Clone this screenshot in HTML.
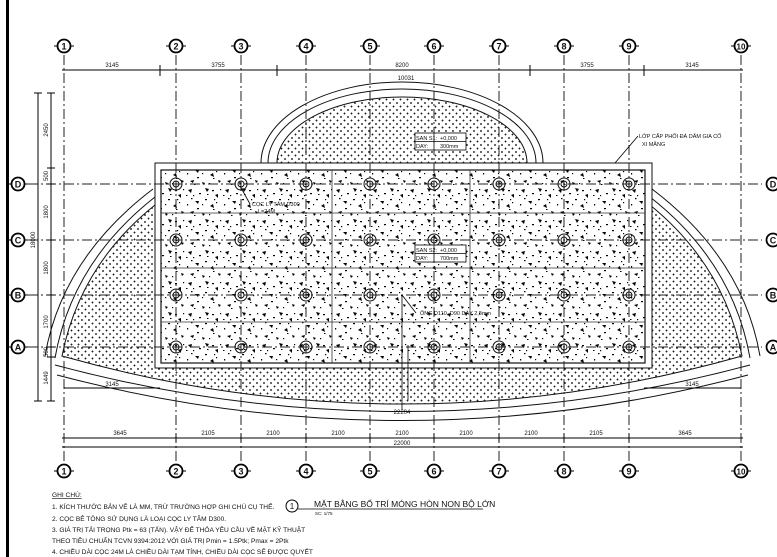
<!DOCTYPE html>
<html><head><meta charset="utf-8"><style>
html,body{margin:0;padding:0;background:#fff;}
svg{display:block;}
text{font-family:"Liberation Sans",sans-serif;fill:#111;}
</style></head><body>
<svg width="777" height="557" viewBox="0 0 777 557" xmlns="http://www.w3.org/2000/svg">
<defs>
<pattern id="dots" width="7" height="7" patternUnits="userSpaceOnUse">
<rect width="7" height="7" fill="#fff"/>
<path d="M0.5 1.5h2M1.5 0.5v2M4 5h2M5 4v2" stroke="#111" stroke-width="0.8"/>
</pattern>
<pattern id="speck" width="37" height="31" patternUnits="userSpaceOnUse">
<rect width="37" height="31" fill="#fff"/>
<g fill="#000">
<path d="M3 4l4-1-1 4z"/><path d="M20 2l4 1-2 3z"/><path d="M30 9l3-1 0 4z"/>
<path d="M10 15l4 0-1 3z"/><path d="M25 20l3-2 1 4z"/><path d="M5 26l4-1-1 3z"/>
<path d="M17 27l3 1-2 2z"/><path d="M33 25l3 1-2 2z"/>
<rect x="14" y="7" width="2" height="1.2"/><rect x="8" y="9" width="1.2" height="1.2"/>
<rect x="27" y="4" width="2" height="1.2"/><rect x="2" y="18" width="1.2" height="1.5"/>
<rect x="20" y="13" width="2" height="1.2"/><rect x="31" y="16" width="1.2" height="1.2"/>
<rect x="12" y="22" width="2" height="1.2"/><rect x="24" y="28" width="1.2" height="1.2"/>
<rect x="35" y="3" width="1.2" height="1.2"/><rect x="17" y="18" width="1.2" height="1.2"/>
<rect x="6" y="12" width="1.5" height="1.2"/><rect x="29" y="13" width="1.2" height="1.2"/>
<rect x="22" y="8" width="1.5" height="1"/><rect x="1" y="9" width="1.5" height="1"/>
<rect x="28" y="23" width="1.5" height="1"/><rect x="9" y="29" width="1.5" height="1"/>
</g>
</pattern>
<g id="prow" fill="none" stroke="#111" stroke-width="1">
<circle cx="176" cy="0" r="6"/><circle cx="176" cy="0" r="3"/>
<circle cx="241" cy="0" r="6"/><circle cx="241" cy="0" r="3"/>
<circle cx="306" cy="0" r="6"/><circle cx="306" cy="0" r="3"/>
<circle cx="370" cy="0" r="6"/><circle cx="370" cy="0" r="3"/>
<circle cx="434" cy="0" r="6"/><circle cx="434" cy="0" r="3"/>
<circle cx="499" cy="0" r="6"/><circle cx="499" cy="0" r="3"/>
<circle cx="564" cy="0" r="6"/><circle cx="564" cy="0" r="3"/>
<circle cx="629" cy="0" r="6"/><circle cx="629" cy="0" r="3"/>
</g>
<g id="bt" fill="#fff" stroke="#000" stroke-width="1.8">
<circle cx="64" cy="0" r="6.5"/><circle cx="176" cy="0" r="6.5"/><circle cx="241" cy="0" r="6.5"/>
<circle cx="306" cy="0" r="6.5"/><circle cx="370" cy="0" r="6.5"/><circle cx="434" cy="0" r="6.5"/>
<circle cx="499" cy="0" r="6.5"/><circle cx="564" cy="0" r="6.5"/><circle cx="629" cy="0" r="6.5"/>
<circle cx="741" cy="0" r="6.5"/>
</g>
</defs>

<rect x="6" y="0" width="3" height="557" fill="#000"/>

<path d="M155 205 Q80 265 62 356 Q402 452 742 356 Q724 265 650 205 Z" fill="url(#dots)" stroke="#111" stroke-width="1"/>
<path d="M277 163 A125 66 0 0 1 527 163 Z" fill="url(#dots)" stroke="#111" stroke-width="1"/>
<path d="M268 163 A134 74 0 0 1 536 163" fill="none" stroke="#111" stroke-width="1"/>
<path d="M261 163 A141 81 0 0 1 543 163" fill="none" stroke="#111" stroke-width="1"/>
<path d="M155 197 Q72 262 55 358" fill="none" stroke="#111"/>
<path d="M153 189 Q62 258 45 356" fill="none" stroke="#111"/>
<path d="M650 197 Q733 262 750 358" fill="none" stroke="#111"/>
<path d="M652 189 Q743 258 760 356" fill="none" stroke="#111"/>
<path d="M55 365 Q402 458 750 365" fill="none" stroke="#111"/>
<path d="M57 375 Q402 466 748 375" fill="none" stroke="#111"/>

<rect x="155" y="163" width="497" height="205" fill="#fff" stroke="#111" stroke-width="1"/>
<rect x="161" y="170" width="484" height="193" fill="url(#speck)" stroke="#111" stroke-width="1.2"/>
<g stroke="#333" stroke-width="0.8">
<line x1="161" y1="213" x2="645" y2="213"/><line x1="161" y1="268" x2="645" y2="268"/><line x1="161" y1="322" x2="645" y2="322"/>
<line x1="332" y1="170" x2="332" y2="363"/><line x1="470" y1="170" x2="470" y2="363"/>
</g>

<g stroke="#222" stroke-width="1" stroke-dasharray="10 3 2 3">
<line x1="64" y1="55" x2="64" y2="462"/><line x1="176" y1="55" x2="176" y2="462"/>
<line x1="241" y1="55" x2="241" y2="462"/><line x1="306" y1="55" x2="306" y2="462"/>
<line x1="370" y1="55" x2="370" y2="462"/><line x1="434" y1="55" x2="434" y2="462"/>
<line x1="499" y1="55" x2="499" y2="462"/><line x1="564" y1="55" x2="564" y2="462"/>
<line x1="629" y1="55" x2="629" y2="462"/><line x1="741" y1="55" x2="741" y2="462"/>
<line x1="28" y1="184" x2="762" y2="184"/><line x1="28" y1="240" x2="762" y2="240"/>
<line x1="28" y1="295" x2="762" y2="295"/><line x1="28" y1="347" x2="762" y2="347"/>
</g>

<use href="#prow" transform="translate(0,184)"/>
<use href="#prow" transform="translate(0,240)"/>
<use href="#prow" transform="translate(0,295)"/>
<use href="#prow" transform="translate(0,347)"/>

<use href="#bt" transform="translate(0,46)"/>
<use href="#bt" transform="translate(0,471)"/>
<g fill="#fff" stroke="#000" stroke-width="1.8">
<circle cx="18" cy="184" r="6.5"/><circle cx="18" cy="240" r="6.5"/><circle cx="18" cy="295" r="6.5"/><circle cx="18" cy="347" r="6.5"/>
<circle cx="773" cy="184" r="6.5"/><circle cx="773" cy="240" r="6.5"/><circle cx="773" cy="295" r="6.5"/><circle cx="773" cy="347" r="6.5"/>
</g>
<g stroke="#000" stroke-width="1">
<path d="M54 46h3M71 46h3M166 46h3M183 46h3M231 46h3M248 46h3M296 46h3M313 46h3M360 46h3M377 46h3M424 46h3M441 46h3M489 46h3M506 46h3M554 46h3M571 46h3M619 46h3M636 46h3M731 46h3M748 46h3"/>
<path d="M54 471h3M71 471h3M166 471h3M183 471h3M231 471h3M248 471h3M296 471h3M313 471h3M360 471h3M377 471h3M424 471h3M441 471h3M489 471h3M506 471h3M554 471h3M571 471h3M619 471h3M636 471h3M731 471h3M748 471h3"/>
<path d="M8 184h3M25 184h3M8 240h3M25 240h3M8 295h3M25 295h3M8 347h3M25 347h3"/>
</g>
<g font-size="9" font-weight="bold" text-anchor="middle">
<text x="64" y="49.5">1</text><text x="176" y="49.5">2</text><text x="241" y="49.5">3</text><text x="306" y="49.5">4</text><text x="370" y="49.5">5</text><text x="434" y="49.5">6</text><text x="499" y="49.5">7</text><text x="564" y="49.5">8</text><text x="629" y="49.5">9</text><text x="741" y="49.5" font-size="8">10</text>
<text x="64" y="474.5">1</text><text x="176" y="474.5">2</text><text x="241" y="474.5">3</text><text x="306" y="474.5">4</text><text x="370" y="474.5">5</text><text x="434" y="474.5">6</text><text x="499" y="474.5">7</text><text x="564" y="474.5">8</text><text x="629" y="474.5">9</text><text x="741" y="474.5" font-size="8">10</text>
<text x="18" y="187.5">D</text><text x="18" y="243.5">C</text><text x="18" y="298.5">B</text><text x="18" y="350.5">A</text>
<text x="773" y="187.5">D</text><text x="773" y="243.5">C</text><text x="773" y="298.5">B</text><text x="773" y="350.5">A</text>
</g>

<g stroke="#000" stroke-width="1">
<line x1="62" y1="70" x2="743" y2="70"/>
<line x1="62" y1="438" x2="743" y2="438"/>
<line x1="62" y1="447" x2="743" y2="447"/>
<path d="M160 65v11M277 65v11M530 65v11M644 65v11"/>
<path d="M176 434v8M241 434v8M306 434v8M370 434v8M434 434v8M499 434v8M564 434v8M629 434v8"/>
<line x1="38" y1="93" x2="38" y2="401"/>
<line x1="51" y1="93" x2="51" y2="401"/>
<path d="M34 93h8M47 93h8M47 168h8M47 184h8M47 240h8M47 295h8M47 347h8M47 357h8M34 401h8M47 401h8"/>
<line x1="64" y1="388" x2="160" y2="388"/><line x1="644" y1="388" x2="741" y2="388"/>
</g>
<g font-size="6" text-anchor="middle">
<text x="112" y="67">3145</text><text x="218" y="67">3755</text><text x="402" y="67">8200</text><text x="587" y="67">3755</text><text x="692" y="67">3145</text>
<text x="406" y="80">10031</text>
<text x="120" y="435">3645</text><text x="208" y="435">2105</text><text x="273" y="435">2100</text><text x="338" y="435">2100</text><text x="402" y="435">2100</text><text x="466" y="435">2100</text><text x="531" y="435">2100</text><text x="596" y="435">2105</text><text x="685" y="435">3645</text>
<text x="402" y="445">22000</text>
<text x="112" y="386">3145</text><text x="692" y="386">3145</text>
<text x="402" y="414">22204</text>
<g transform="rotate(-90)">
<text x="-130" y="48">2450</text><text x="-176" y="48">500</text><text x="-212" y="48">1800</text><text x="-268" y="48">1800</text><text x="-322" y="48">1700</text><text x="-352" y="48">500</text><text x="-378" y="48">1449</text>
<text x="-240" y="35">18000</text>
</g>
</g>

<g stroke="#000" stroke-width="0.8" fill="#fff">
<rect x="415" y="133" width="51" height="17"/><line x1="415" y1="141.5" x2="466" y2="141.5"/><line x1="434" y1="133" x2="434" y2="150"/>
<rect x="415" y="245" width="51" height="17"/><line x1="415" y1="253.5" x2="466" y2="253.5"/><line x1="434" y1="245" x2="434" y2="262"/>
</g>
<g font-size="5.5">
<text x="416" y="140">SAN S1:</text><text x="440" y="140">+0,000</text><text x="416" y="148">DAY:</text><text x="440" y="148">300mm</text>
<text x="416" y="252">SAN S2:</text><text x="440" y="252">+0,000</text><text x="416" y="260">DAY:</text><text x="440" y="260">700mm</text>
<text x="639" y="138">LỚP CẤP PHỐI ĐÁ DĂM GIA CỐ</text><text x="642" y="146">XI MĂNG</text>
<text x="252" y="206">CỌC LY TÂM D300</text><text x="258" y="213">L=24M</text>
<text x="420" y="315">ỐNG D110, D90 DÀY 2,8mm</text>
</g>
<g stroke="#000" stroke-width="0.8" fill="none">
<path d="M638 136L615 163"/><path d="M240 186l10 18"/><path d="M402 295l14 18"/>
<line x1="402" y1="295" x2="402" y2="410"/><line x1="408" y1="345" x2="408" y2="400"/>
</g>

<g font-size="6.6">
<text x="52" y="497" text-decoration="underline">GHI CHÚ:</text>
<text x="52" y="509">1. KÍCH THƯỚC BẢN VẼ LÀ MM, TRỪ TRƯỜNG HỢP GHI CHÚ CỤ THỂ.</text>
<text x="52" y="521">2. CỌC BÊ TÔNG SỬ DỤNG LÀ LOẠI CỌC LY TÂM D300.</text>
<text x="52" y="532">3. GIÁ TRỊ TẢI TRỌNG Ptk = 63 (TẤN). VẬY ĐỂ THỎA YÊU CẦU VỀ MẶT KỸ THUẬT</text>
<text x="52" y="543">THEO TIÊU CHUẨN TCVN 9394:2012 VỚI GIÁ TRỊ Pmin = 1.5Ptk; Pmax = 2Ptk</text>
<text x="52" y="554">4. CHIỀU DÀI CỌC 24M LÀ CHIỀU DÀI TẠM TÍNH, CHIỀU DÀI CỌC SẼ ĐƯỢC QUYẾT</text>
</g>
<circle cx="292" cy="506" r="6" fill="#fff" stroke="#000" stroke-width="1"/>
<text x="292" y="509" font-size="8" text-anchor="middle">1</text>
<line x1="298" y1="509" x2="483" y2="509" stroke="#000" stroke-width="0.8"/>
<text x="314" y="507" font-size="8.5">MẶT BẰNG BỐ TRÍ MÓNG HÒN NON BỘ LỚN</text>
<text x="315" y="515" font-size="4.5">SC: 1/75</text>
</svg>
</body></html>
